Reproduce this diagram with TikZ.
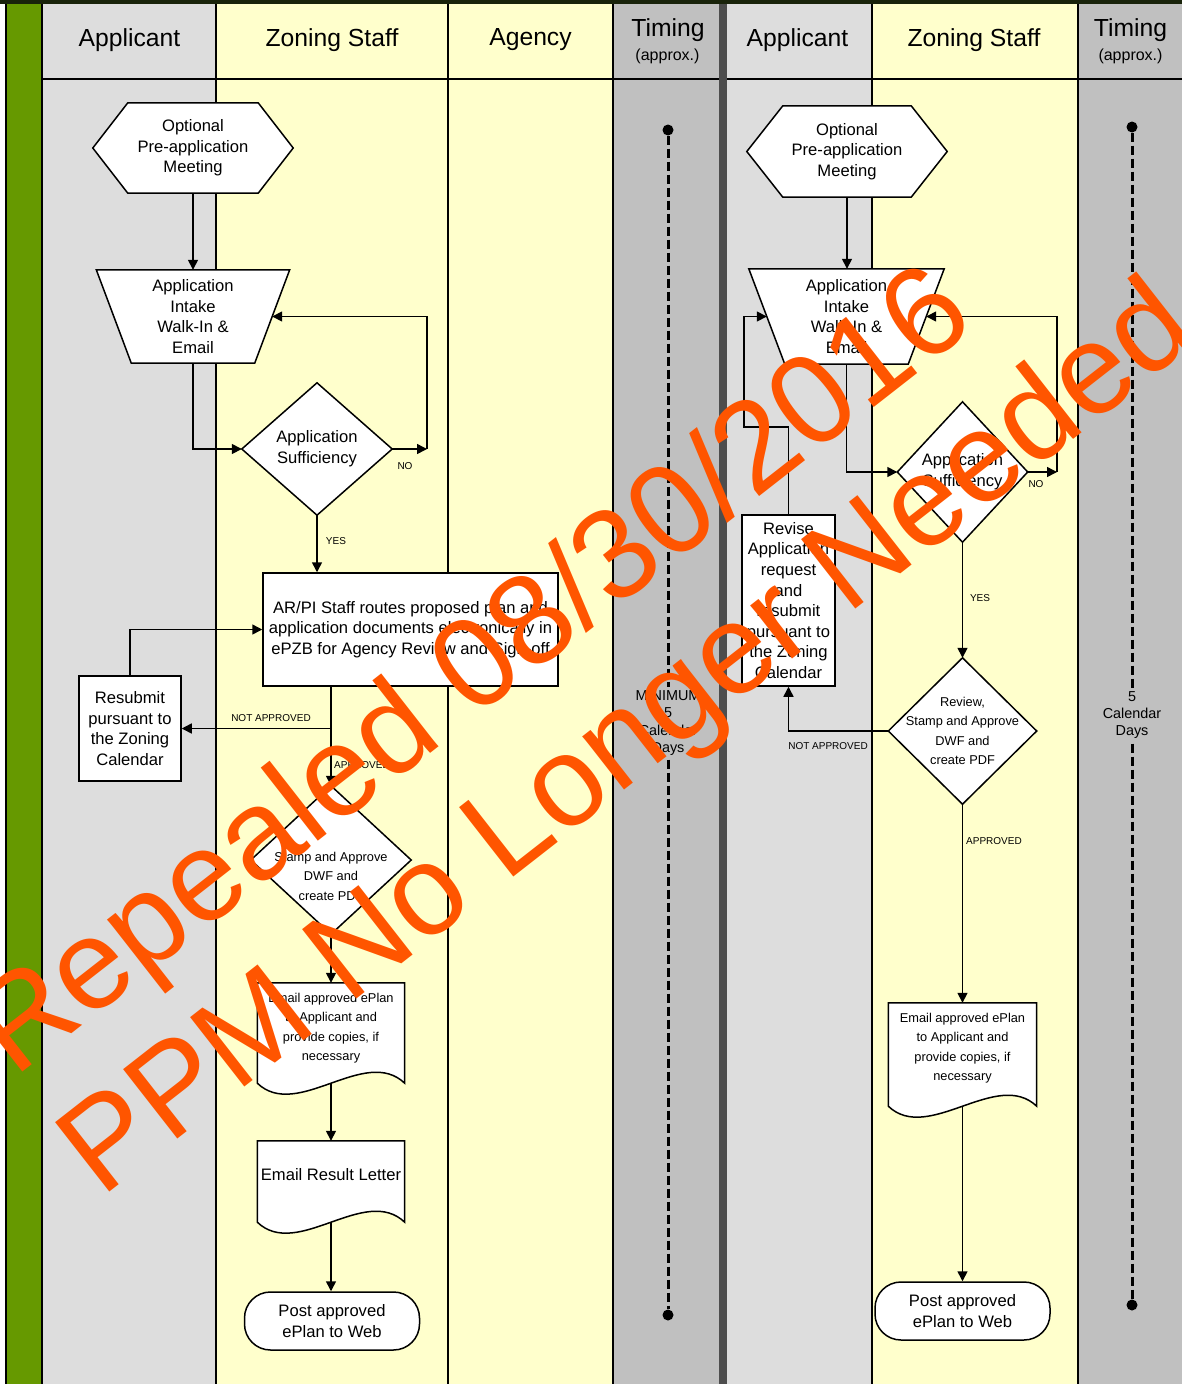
\documentclass[tikz,border=0pt]{standalone}
\usepackage{fontspec}
\setmainfont{Liberation Sans}
\usetikzlibrary{calc,arrows.meta}
\pgfdeclarelayer{bg}
\pgfdeclarelayer{shp}
\pgfdeclarelayer{top}
\pgfsetlayers{bg,shp,main,top}
\definecolor{lanegray}{RGB}{221,221,221}
\definecolor{laneyellow}{RGB}{255,255,204}
\definecolor{timegray}{RGB}{192,192,192}
\definecolor{barGreen}{RGB}{102,153,0}
\definecolor{divgray}{RGB}{77,77,77}
\definecolor{topband}{RGB}{25,35,10}
\definecolor{wmorange}{RGB}{255,85,0}
\begin{document}
\begin{tikzpicture}[x=1pt,y=-1pt,
  txt/.style={font=\fontsize{16.6}{20.6}\selectfont, align=center, inner sep=0pt},
  smalltxt/.style={font=\fontsize{12.8}{19.5}\selectfont, align=center, inner sep=0pt},
  lbl/.style={font=\fontsize{10}{12}\selectfont, inner sep=0pt},
  hdr/.style={font=\fontsize{24.7}{28}\selectfont, inner sep=0pt},
  subhdr/.style={font=\fontsize{16}{18}\selectfont, inner sep=0pt},
  outline/.style={draw=black, fill=white, line width=1.5pt, line join=miter},
  boxnode/.style={txt, draw=black, fill=white, line width=1.5pt},
  conn/.style={draw=black, line width=1.5pt, -{Triangle[length=10pt,width=10pt]}},
  plain/.style={draw=black, line width=1.5pt},
  lane/.style={draw=black, line width=1.5pt},
  timetxt/.style={font=\fontsize{14.4}{17.4}\selectfont, align=center, fill=timegray, inner xsep=1pt, inner ysep=3pt},
  dashln/.style={line width=3pt, dash pattern=on 9pt off 4pt},
  tdot/.style={circle, fill=black, inner sep=0pt, minimum size=11pt},
  wm/.style={font=\fontsize{128}{128}\selectfont, text=wmorange, inner sep=0pt}
]
\useasboundingbox (0,0) rectangle (1182,1384);

% ---------------- background lanes ----------------
\begin{pgfonlayer}{bg}
\fill[white] (0,0) rectangle (1182,1384);
\fill[lanegray] (43,4) rectangle (216,1384);
\fill[laneyellow] (216,4) rectangle (613,1384);
\fill[timegray] (613,4) rectangle (719,1384);
\fill[divgray] (719,4) rectangle (727,1384);
\fill[lanegray] (727,4) rectangle (872,1384);
\fill[laneyellow] (872,4) rectangle (1078,1384);
\fill[timegray] (1078,4) rectangle (1182,1384);
\fill[barGreen] (5,4) rectangle (42,1384);
\fill[topband] (0,0) rectangle (1182,4);
\draw[lane] (6,4) -- (6,1384);
\draw[lane] (42,4) -- (42,1384);
\foreach \lx in {216,448,613,872,1078} \draw[lane] (\lx,4) -- (\lx,1384);
\draw[lane] (42,79) -- (719,79);
\draw[lane] (727,79) -- (1182,79);
\end{pgfonlayer}

% ---------------- headers ----------------
\node[hdr] (hA1) at (129.5,40) {Applicant};
\node[hdr] (hZ1) at (332,40) {Zoning Staff};
\node[hdr] (hG1) at (530.5,40) {Agency};
\node[hdr] (hT1) at (668,30) {Timing};
\node[subhdr] (hS1) at (667.5,56) {(approx.)};
\node[hdr] (hA2) at (797.5,40) {Applicant};
\node[hdr] (hZ2) at (974,40) {Zoning Staff};
\node[hdr] (hT2) at (1130.5,30) {Timing};
\node[subhdr] (hS2) at (1130.5,56) {(approx.)};

% ---------------- left flow ----------------
\node[txt, minimum width=200, minimum height=90] (hex1) at (193,148) {Optional\\Pre-application\\Meeting};
\node[txt, minimum width=193, minimum height=93] (trap1) at (193,316.5) {Application\\Intake\\Walk-In \&\\Email};
\node[txt, minimum width=150, minimum height=132] (dia1) at (317,449) {Application\\Sufficiency};
\node[boxnode, minimum width=295, minimum height=113] (box1) at (410.5,629.5) {AR/PI Staff routes proposed plan and\\application documents electronically in\\ePZB for Agency Review and Sign-off};
\node[boxnode, minimum width=102, minimum height=105] (resub) at (130,728.5) {Resubmit\\pursuant to\\the Zoning\\Calendar};
\node[minimum width=160, minimum height=148, inner sep=0pt] (dia2) at (331,860) {};
\node[smalltxt] (dia2t) at (331,876) {Stamp and Approve\\DWF and\\create PDF};
\node[smalltxt, minimum width=147, minimum height=90] (d1) at (331,1028) {Email approved ePlan\\to Applicant and\\provide copies, if\\necessary};
\node[txt, minimum width=147, minimum height=68] (d2) at (331,1175) {Email Result Letter};
\node[txt, draw=black, fill=white, line width=1.5pt, rounded corners=26pt, minimum width=175, minimum height=58] (term1) at (332,1321) {Post approved\\ePlan to Web};

\coordinate (d1b) at ($(d1.south)+(0,10)$);
\coordinate (d2b) at ($(d2.south)+(0,13)$);
\coordinate (t1rm) at ($(trap1.east)+(-17.5,0)$);
\coordinate (no1) at (427,449);
\coordinate (na1) at (331,728.5);

% ---------------- right flow ----------------
\node[txt, minimum width=200, minimum height=91] (hex2) at (847,151.5) {Optional\\Pre-application\\Meeting};
\node[txt, minimum width=195, minimum height=95] (trap2) at (846.5,316.5) {Application\\Intake\\Walk-In \&\\Email};
\node[txt, minimum width=130, minimum height=140] (dia3) at (962.5,472) {Application\\Sufficiency};
\node[boxnode, minimum width=93, minimum height=171] (rev) at (788.5,600.5) {Revise\\Application\\request\\and\\resubmit\\pursuant to\\the Zoning\\Calendar};
\node[smalltxt, minimum width=148, minimum height=146] (dia4) at (962.5,731) {Review,\\Stamp and Approve\\DWF and\\create PDF};
\node[smalltxt, minimum width=148, minimum height=90] (d3) at (962.5,1048) {Email approved ePlan\\to Applicant and\\provide copies, if\\necessary};
\node[txt, draw=black, fill=white, line width=1.5pt, rounded corners=26pt, minimum width=175, minimum height=58] (term2) at (962.5,1311) {Post approved\\ePlan to Web};

\coordinate (d3b) at ($(d3.south)+(0,13)$);
\coordinate (t2rm) at ($(trap2.east)+(-18,0)$);
\coordinate (t2lm) at ($(trap2.west)+(18,0)$);
\coordinate (no2) at (1057,472);
\coordinate (rv1) at (744,427);

% ---------------- shape outlines ----------------
\begin{pgfonlayer}{shp}
\draw[outline] ($(hex1.north west)+(35,0)$) -- ($(hex1.north east)+(-35,0)$) -- (hex1.east) -- ($(hex1.south east)+(-35,0)$) -- ($(hex1.south west)+(35,0)$) -- (hex1.west) -- cycle;
\draw[outline] (trap1.north west) -- (trap1.north east) -- ($(trap1.south east)+(-35,0)$) -- ($(trap1.south west)+(35,0)$) -- cycle;
\draw[outline] (dia1.north) -- (dia1.east) -- (dia1.south) -- (dia1.west) -- cycle;
\draw[outline] (dia2.north) -- (dia2.east) -- (dia2.south) -- (dia2.west) -- cycle;
\draw[outline] (d1.north west) -- (d1.north east) -- ($(d1.south east)+(0,10)$) .. controls ($(d1.south east)+(-40,-28)$) and ($(d1.south west)+(40,48)$) .. ($(d1.south west)+(0,10)$) -- cycle;
\draw[outline] (d2.north west) -- (d2.north east) -- ($(d2.south east)+(0,13)$) .. controls ($(d2.south east)+(-40,-25)$) and ($(d2.south west)+(40,51)$) .. ($(d2.south west)+(0,13)$) -- cycle;
\draw[outline] ($(hex2.north west)+(36,0)$) -- ($(hex2.north east)+(-36,0)$) -- (hex2.east) -- ($(hex2.south east)+(-36,0)$) -- ($(hex2.south west)+(36,0)$) -- (hex2.west) -- cycle;
\draw[outline] (trap2.north west) -- (trap2.north east) -- ($(trap2.south east)+(-36,0)$) -- ($(trap2.south west)+(36,0)$) -- cycle;
\draw[outline] (dia3.north) -- (dia3.east) -- (dia3.south) -- (dia3.west) -- cycle;
\draw[outline] (dia4.north) -- (dia4.east) -- (dia4.south) -- (dia4.west) -- cycle;
\draw[outline] (d3.north west) -- (d3.north east) -- ($(d3.south east)+(0,13)$) .. controls ($(d3.south east)+(-40,-25)$) and ($(d3.south west)+(40,51)$) .. ($(d3.south west)+(0,13)$) -- cycle;
\end{pgfonlayer}

% ---------------- left connectors ----------------
\draw[conn] (hex1.south) -- (trap1.north);
\draw[conn] ($(trap1.south)$) |- (dia1.west);
\draw[conn] (dia1.east) -- (no1);
\draw[conn] (no1) |- (t1rm);
\draw[conn] (dia1.south) -- (dia1.south |- box1.north);
\draw[conn] (box1.south -| dia2.north) -- (dia2.north);
\draw[conn] (na1) -- (resub.east);
\draw[conn] (resub.north) |- (box1.west);
\draw[conn] (dia2.south) -- (d1.north);
\draw[conn] (d1b) -- (d2.north);
\draw[conn] (d2b) -- (term1.north -| d2b);

\node[lbl] (lNO1) at (405,466) {NO};
\node[lbl] (lYES1) at (336,541) {YES};
\node[lbl] (lNA1) at (271,718) {NOT APPROVED};
\node[lbl] (lAP1) at (362,765) {APPROVED};

% ---------------- right connectors ----------------
\draw[conn] (hex2.south) -- (hex2.south |- trap2.north);
\draw[conn] (trap2.south) |- (dia3.west);
\draw[conn] (dia3.east) -- (no2);
\draw[conn] (no2) |- (t2rm);
\draw[conn] (rev.north) |- (rv1) |- (t2lm);
\draw[conn] (dia3.south) -- (dia4.north);
\draw[conn] (dia4.west) -| (rev.south);
\draw[conn] (dia4.south) -- (d3.north);
\draw[conn] (d3b) -- (term2.north);

\node[lbl] (lNO2) at (1036,484) {NO};
\node[lbl] (lYES2) at (980,598) {YES};
\node[lbl] (lNA2) at (828,746) {NOT APPROVED};
\node[lbl] (lAP2) at (994,841) {APPROVED};

% ---------------- timing ----------------
\node[tdot] (tl1) at (668,130) {};
\node[tdot] (tl2) at (668,1315) {};
\node[tdot] (tr1) at (1132,127) {};
\node[tdot] (tr2) at (1132,1305) {};
\begin{pgfonlayer}{shp}
\draw[dashln] (tl1) -- (tl2);
\draw[dashln] (tr1) -- (tr2);
\end{pgfonlayer}
\node[timetxt] (tlt) at (668,723) {MINIMUM\\5\\Calendar\\Days};
\node[timetxt] (trt) at (1132,715) {5\\Calendar\\Days};

% ---------------- watermark ----------------
\begin{pgfonlayer}{top}
\node[wm, rotate=38] (wm1) at (476,676) {Repealed 08/30/2016};
\node[wm, rotate=38] (wm2) at (631,743) {PPM No Longer Needed};
\end{pgfonlayer}
\end{tikzpicture}
\end{document}
